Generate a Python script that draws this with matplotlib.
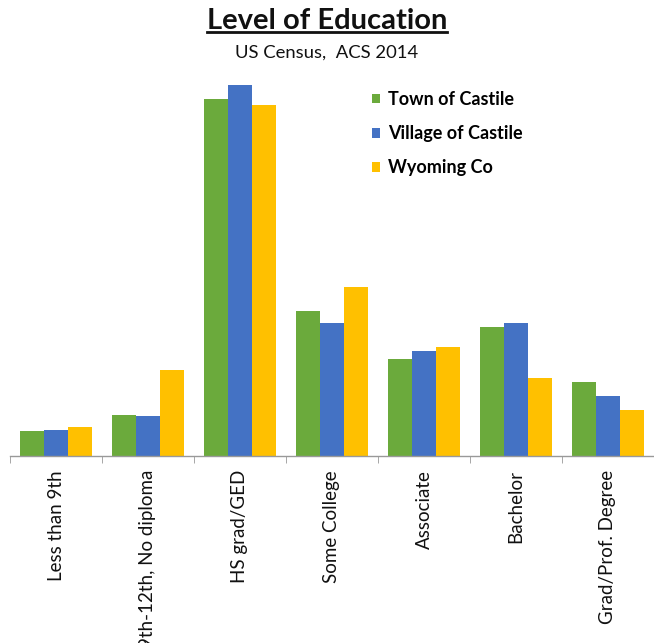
import numpy as np
import matplotlib
matplotlib.use('Agg')
import matplotlib.pyplot as plt
from matplotlib.lines import Line2D

plt.rcParams['font.family'] = ['Lato', 'DejaVu Sans']

# data (percent of population 25+)
categories = ['Less than 9th', '9th-12th, No diploma', 'HS grad/GED', 'Some College',
              'Associate', 'Bachelor', 'Grad/Prof. Degree']
town = [2.9, 4.7, 41.1, 16.7, 11.2, 14.9, 8.5]
village = [3.0, 4.6, 42.7, 15.3, 12.1, 15.3, 6.9]
county = [3.3, 9.9, 40.4, 19.5, 12.5, 9.0, 5.3]
series_names = ['Town of Castile', 'Village of Castile', 'Wyoming Co']
colors = ['#6BAA3C', '#4472C4', '#FFC000']

fig = plt.figure(figsize=(6.54, 6.43), dpi=100)
ax = fig.add_axes([10 / 654, (643 - 456) / 643, 644 / 654, 391 / 643])

x = np.arange(len(categories))
w = 0.26
for k, (vals, c) in enumerate(zip([town, village, county], colors)):
    ax.bar(x + (k - 1) * w, vals, width=w, color=c, label=series_names[k])

ax.set_xlim(-0.5, len(categories) - 0.5)
ax.set_ylim(0, 45)
ax.set_yticks([])
for s in ['top', 'right', 'left']:
    ax.spines[s].set_visible(False)
ax.spines['bottom'].set_color('#999999')
ax.spines['bottom'].set_linewidth(1)

ax.set_xticks(x)
ax.set_xticklabels(categories, rotation=90, fontsize=13.5, color='#111111')
ax.tick_params(axis='x', which='major', length=0, pad=10)
ax.set_xticks(np.arange(-0.5, len(categories), 1), minor=True)
ax.tick_params(axis='x', which='minor', length=5, color='#999999')

# legend
leg = ax.legend(loc='upper left', bbox_to_anchor=(0.537, 0.975), frameon=False,
                prop={'weight': 'bold', 'size': 13}, handlelength=0.45, handleheight=0.45,
                handletextpad=0.45, labelspacing=0.95)

# title with underline
t = fig.text(0.5, 0.968, 'Level of Education', ha='center', va='center',
             fontsize=21, fontweight='bold', color='#111111')
fig.text(0.5, 0.918, 'US Census,  ACS 2014', ha='center', va='center',
         fontsize=13.3, color='#111111')
fig.canvas.draw()
bb = t.get_window_extent().transformed(fig.transFigure.inverted())
uy = bb.y0 + 0.002
fig.add_artist(Line2D([bb.x0, bb.x1], [uy, uy], transform=fig.transFigure,
                      color='#111111', linewidth=2))

fig.savefig('out.png', dpi=100)
